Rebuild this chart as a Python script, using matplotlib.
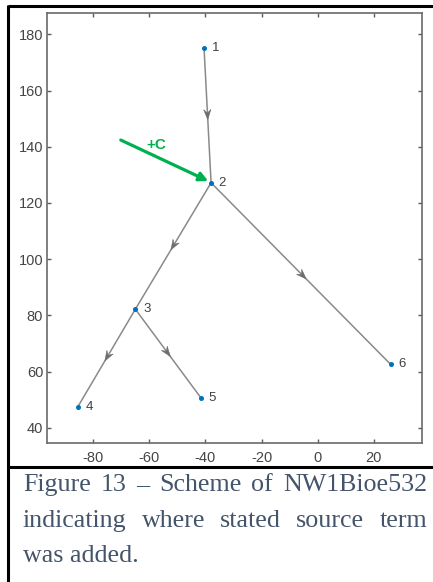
import matplotlib
matplotlib.use("Agg")
import matplotlib.pyplot as plt
import numpy as np
from matplotlib.lines import Line2D
from matplotlib.patches import Polygon, FancyArrowPatch

plt.rcParams["axes.unicode_minus"] = False

# graph nodes (x, y) and directed edges
node_ids = ["1", "2", "3", "4", "5", "6"]
node_x = [-40.5, -38.0, -65.0, -85.5, -41.5, 26.0]
node_y = [175.0, 127.2, 82.2, 47.5, 50.5, 62.6]
edges = [(0, 1), (1, 2), (1, 5), (2, 3), (2, 4)]

# source term marker
source_start = (-70.2, 142.4)
source_end = (-39.0, 127.8)
source_label = "+C"
source_label_xy = (-57.4, 140.6)

x_ticks = [-80, -60, -40, -20, 0, 20]
y_ticks = [40, 60, 80, 100, 120, 140, 160, 180]

caption_lines = [
    "Figure 13 \u2013 Scheme of NW1Bioe532",
    "indicating where stated source term",
    "was added.",
]

W, H = 433, 582
fig = plt.figure(figsize=(W / 100, H / 100), dpi=100)
fig.patch.set_facecolor("white")

ax = fig.add_axes([47.3 / W, 1 - 442.7 / H, 374.4 / W, 429.4 / H])
ax.set_xlim(-96.4, 37.1)
ax.set_ylim(34.7, 187.5)

edge_col = "#8a8a8a"
for a, b in edges:
    x0, y0, x1, y1 = node_x[a], node_y[a], node_x[b], node_y[b]
    ax.plot([x0, x1], [y0, y1], color=edge_col, lw=1.1, zorder=2, solid_capstyle="butt")
    # arrowhead near the middle of the edge
    d = np.array([x1 - x0, y1 - y0])
    L = np.hypot(*d)
    u = d / L
    n = np.array([-u[1], u[0]])
    tip = np.array([x0, y0]) + 0.53 * d
    back = tip - 3.6 * u
    notch = tip - 2.3 * u
    pts = [tip, back + 1.3 * n, notch, back - 1.3 * n]
    ax.add_patch(Polygon(pts, closed=True, facecolor="#6e6e6e", edgecolor="#6e6e6e",
                         lw=0.4, zorder=3))

ax.plot(node_x, node_y, ls="none", marker="o", ms=2.6, color="#0072BD", zorder=4)
for lab, x, y in zip(node_ids, node_x, node_y):
    ax.annotate(lab, (x, y), xytext=(5.5, 0), textcoords="offset points",
                ha="left", va="center", fontsize=9.5, color="#404040",
                family="Liberation Sans")

green = "#00B050"
ax.add_patch(FancyArrowPatch(source_start, source_end, arrowstyle="-|>", mutation_scale=13,
                             lw=2.3, color=green, shrinkA=0, shrinkB=0, zorder=5))
ax.text(*source_label_xy, source_label, color=green, fontsize=11, fontweight="bold",
        ha="center", va="center", family="Liberation Sans")

ax.set_xticks(x_ticks)
ax.set_yticks(y_ticks)
ax.tick_params(direction="in", length=3, width=1.0, color="#5a5a5a",
               top=True, right=True, labelsize=10.5, labelcolor="#454545")
ax.tick_params(axis="x", pad=6)
ax.tick_params(axis="y", pad=3)
for lbl in ax.get_xticklabels() + ax.get_yticklabels():
    lbl.set_family("Liberation Sans")
for sp in ax.spines.values():
    sp.set_color("#6a6a6a")
    sp.set_linewidth(1.2)

# table frame around the figure and caption
frame_kw = dict(color="black", lw=2.2, transform=fig.transFigure, solid_capstyle="butt")
fig.add_artist(Line2D([8 / W, 1], [1 - 6 / H, 1 - 6 / H], **frame_kw))
fig.add_artist(Line2D([8 / W, 8 / W], [0, 1 - 5 / H], **frame_kw))
fig.add_artist(Line2D([8 / W, 1], [1 - 467 / H, 1 - 467 / H], **frame_kw))

# justified caption
cap_kw = dict(fontsize=18.7, color="#44546A", family="Liberation Serif", va="baseline")
baselines = [491, 527, 562]
left_px, right_px = 23, 427
renderer = fig.canvas.get_renderer()
for i, (line, base) in enumerate(zip(caption_lines, baselines)):
    yf = 1 - base / H
    if i == len(caption_lines) - 1:
        fig.text(left_px / W, yf, line, ha="left", **cap_kw)
        continue
    words = line.split(" ")
    arts = [fig.text(0, yf, w, ha="left", **cap_kw) for w in words]
    widths = [a.get_window_extent(renderer).width for a in arts]
    gap = (right_px - left_px - sum(widths)) / (len(words) - 1)
    x = left_px
    for a, w in zip(arts, widths):
        a.set_x(x / W)
        x += w + gap

fig.savefig("out.png", dpi=100)
